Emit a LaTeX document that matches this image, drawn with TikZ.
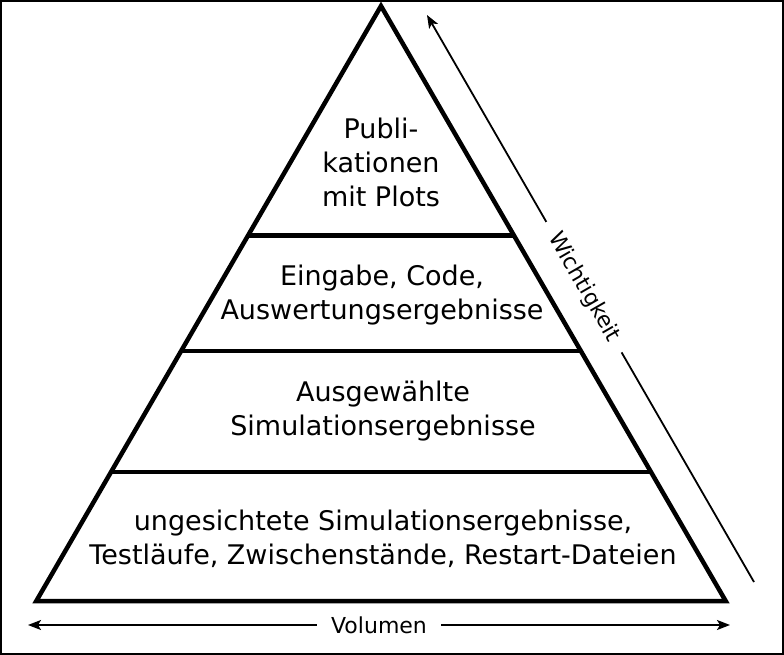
\documentclass[tikz,border=0pt]{standalone}
\usepackage{fontspec}
\setmainfont{DejaVu Sans}
\usetikzlibrary{arrows.meta,calc}
\begin{document}
\begin{tikzpicture}[x=1pt,y=-1pt,
  layer/.style={line width=4.5pt,line join=miter},
  layertext/.style={align=center,anchor=base,inner sep=0pt,font=\fontsize{27}{34}\selectfont},
  axis/.style={line width=1.8pt,-{Stealth[length=13pt,width=10pt,inset=3pt]}},
  axislabel/.style={fill=white,inner xsep=14pt,inner ysep=2pt,font=\fontsize{22}{26}\selectfont}]
\useasboundingbox (0,0) rectangle (784,655);
\draw[line width=2pt] (1,1) rectangle (783,654);
% triangle corners
\coordinate (A) at (381,6);
\coordinate (L) at (36.3,601);
\coordinate (R) at (725.7,601);
\draw[layer] (A) -- (L) -- (R) -- cycle;
% dividers
\coordinate (l1) at ($(A)!0.3857!(L)$);
\coordinate (r1) at ($(A)!0.3857!(R)$);
\coordinate (l2) at ($(A)!0.5798!(L)$);
\coordinate (r2) at ($(A)!0.5798!(R)$);
\coordinate (l3) at ($(A)!0.7832!(L)$);
\coordinate (r3) at ($(A)!0.7832!(R)$);
\draw[layer] (l1) -- (r1);
\draw[layer] (l2) -- (r2);
\draw[layer] (l3) -- (r3);
% texts (anchored at the baseline of the last line)
\node[layertext] (t1) at (381,206.7) {Publi-\\kationen\\mit Plots};
\node[layertext] (t2) at (382,319) {Eingabe, Code,\\Auswertungsergebnisse};
\node[layertext] (t3) at (383,435) {Ausgewählte\\Simulationsergebnisse};
\node[layertext] (t4) at (383,564) {ungesichtete Simulationsergebnisse,\\Testläufe, Zwischenstände, Restart-Dateien};
% Volumen axis
\coordinate (v0) at (379,625);
\coordinate (vl) at (28,625);
\coordinate (vr) at (730,625);
\draw[axis] (v0) -- (vl);
\draw[axis] (v0) -- (vr);
\node[axislabel] (vol) at (v0) {Volumen};
% Wichtigkeit axis
\coordinate (w0) at (754,582);
\coordinate (w1) at (427,15);
\draw[axis] (w0) -- node[axislabel,sloped,pos=0.52] (wich) {Wichtigkeit} (w1);
\end{tikzpicture}
\end{document}
